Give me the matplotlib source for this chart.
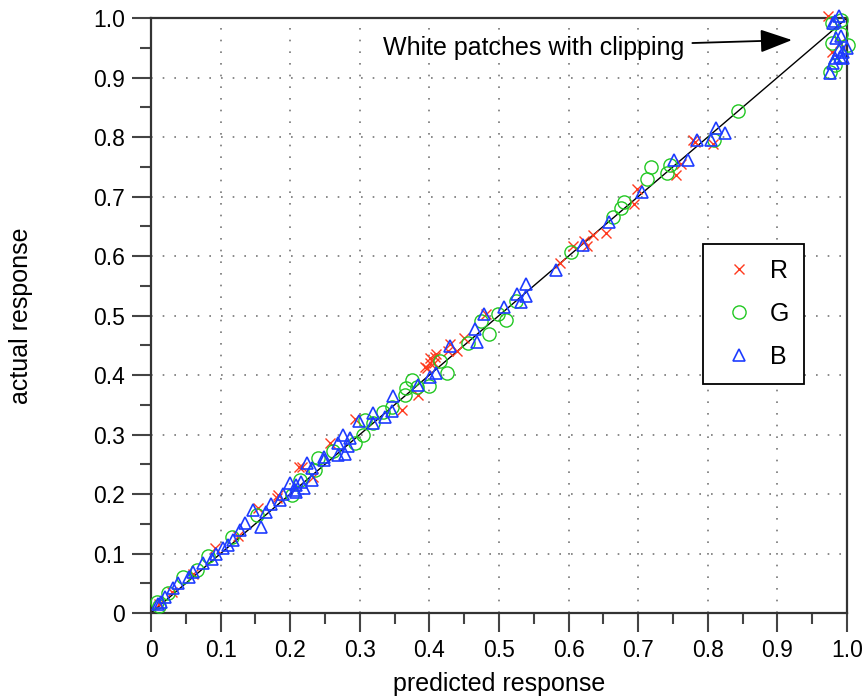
import matplotlib
matplotlib.use("Agg")
import matplotlib.pyplot as plt
from matplotlib.ticker import MultipleLocator

plt.rcParams['font.family'] = ['Liberation Sans', 'DejaVu Sans']

# ---- data ----
r_pred = [0.012, 0.030, 0.060, 0.092, 0.125, 0.154, 0.181, 0.183, 0.212, 0.217, 0.233, 0.257,
          0.293, 0.360, 0.383, 0.394, 0.396, 0.401, 0.401, 0.406, 0.408, 0.410, 0.427, 0.430,
          0.439, 0.449, 0.482, 0.588, 0.606, 0.622, 0.626, 0.635, 0.654, 0.694, 0.698, 0.755,
          0.761, 0.779, 0.781, 0.807, 0.973, 0.979, 0.990]
r_act = [0.015, 0.035, 0.065, 0.109, 0.130, 0.176, 0.193, 0.198, 0.246, 0.246, 0.229, 0.285,
         0.326, 0.341, 0.366, 0.414, 0.411, 0.428, 0.420, 0.420, 0.431, 0.436, 0.441, 0.452,
         0.441, 0.463, 0.503, 0.589, 0.617, 0.625, 0.617, 0.636, 0.639, 0.687, 0.712, 0.737,
         0.755, 0.795, 0.792, 0.788, 1.003, 0.943, 0.958]

g_pred = [0.008, 0.012, 0.025, 0.046, 0.066, 0.082, 0.116, 0.152, 0.202, 0.214, 0.236, 0.240,
          0.262, 0.293, 0.305, 0.307, 0.319, 0.333, 0.346, 0.365, 0.367, 0.375, 0.382, 0.400,
          0.415, 0.425, 0.456, 0.474, 0.485, 0.499, 0.510, 0.524, 0.604, 0.664, 0.675, 0.679,
          0.713, 0.718, 0.741, 0.745, 0.809, 0.844, 0.976, 0.978, 0.978, 0.983, 0.992, 1.002,
          0.992]
g_act = [0.019, 0.012, 0.033, 0.060, 0.072, 0.095, 0.128, 0.165, 0.198, 0.224, 0.240, 0.260,
         0.273, 0.285, 0.299, 0.324, 0.319, 0.338, 0.347, 0.366, 0.378, 0.392, 0.380, 0.382,
         0.423, 0.403, 0.453, 0.490, 0.469, 0.503, 0.492, 0.525, 0.607, 0.666, 0.680, 0.690,
         0.730, 0.749, 0.740, 0.753, 0.795, 0.844, 0.910, 0.991, 0.958, 0.921, 0.974, 0.955,
         0.997]

b_pred = [0.010, 0.015, 0.020, 0.032, 0.039, 0.054, 0.061, 0.075, 0.087, 0.094, 0.104, 0.110,
          0.118, 0.128, 0.135, 0.147, 0.158, 0.165, 0.173, 0.185, 0.190, 0.200, 0.207, 0.209,
          0.209, 0.215, 0.220, 0.224, 0.231, 0.231, 0.248, 0.248, 0.269, 0.269, 0.276, 0.279,
          0.283, 0.286, 0.299, 0.319, 0.319, 0.336, 0.346, 0.348, 0.383, 0.401, 0.410, 0.430,
          0.466, 0.468, 0.478, 0.507, 0.526, 0.531, 0.539, 0.539, 0.582, 0.620, 0.658, 0.706,
          0.751, 0.771, 0.785, 0.804, 0.812, 0.825, 0.976, 0.980, 0.983, 0.994, 0.990, 0.995,
          0.989, 1.000, 0.984, 0.991, 0.983, 0.989, 0.980]
b_act = [0.016, 0.019, 0.027, 0.042, 0.050, 0.061, 0.069, 0.084, 0.090, 0.100, 0.109, 0.115,
         0.123, 0.139, 0.151, 0.173, 0.145, 0.170, 0.184, 0.190, 0.200, 0.218, 0.207, 0.204,
         0.215, 0.220, 0.210, 0.252, 0.243, 0.224, 0.257, 0.262, 0.266, 0.286, 0.299, 0.268,
         0.281, 0.295, 0.323, 0.336, 0.319, 0.329, 0.340, 0.365, 0.383, 0.396, 0.403, 0.449,
         0.477, 0.456, 0.502, 0.514, 0.537, 0.522, 0.553, 0.532, 0.576, 0.618, 0.657, 0.708,
         0.762, 0.762, 0.795, 0.795, 0.816, 0.807, 0.907, 0.924, 0.932, 0.932, 0.935, 0.943,
         0.946, 0.949, 0.967, 0.969, 0.995, 1.003, 0.991]

ticks = [0, 0.1, 0.2, 0.3, 0.4, 0.5, 0.6, 0.7, 0.8, 0.9, 1.0]
tick_labels = ['0', '0.1', '0.2', '0.3', '0.4', '0.5', '0.6', '0.7', '0.8', '0.9', '1.0']

RED = '#ff3a1e'
GREEN = '#22c822'
BLUE = '#1e3cff'

fig = plt.figure(figsize=(8.67, 6.99), dpi=100)
ax = fig.add_axes([0.1742, 0.1230, 0.8027, 0.8512])

ax.plot([0, 1], [0, 1], color='black', lw=1.0, zorder=2)

ax.plot(r_pred, r_act, linestyle='none', marker='x', ms=6.5, mew=1.0, color=RED,
        label='R', clip_on=False, zorder=3)
ax.plot(g_pred, g_act, linestyle='none', marker='o', ms=9.5, mew=1.0, mfc='none', mec=GREEN,
        label='G', clip_on=False, zorder=3)
ax.plot(b_pred, b_act, linestyle='none', marker='^', ms=9, mew=1.2, mfc='none', mec=BLUE,
        label='B', clip_on=False, zorder=4)

ax.set_xlim(0, 1)
ax.set_ylim(0, 1)
ax.set_xticks(ticks)
ax.set_xticklabels(tick_labels)
ax.set_yticks(ticks)
ax.set_yticklabels(tick_labels)
ax.xaxis.set_minor_locator(MultipleLocator(0.05))
ax.yaxis.set_minor_locator(MultipleLocator(0.05))
ax.tick_params(which='major', direction='out', length=14, width=1.5, color='#444444',
               labelsize=16.5, pad=5)
ax.tick_params(which='minor', direction='out', length=8, width=1.5, color='#444444')
ax.grid(True, which='major', color='#777777', linestyle=(0, (1, 6)), lw=1.2)

for s in ax.spines.values():
    s.set_linewidth(1.6)
    s.set_color('#333333')

ax.set_xlabel('predicted response', fontsize=18, va='top')
ax.set_ylabel('actual response', fontsize=18)
ax.xaxis.set_label_coords(0.5, -0.099)
ax.yaxis.set_label_coords(-0.170, 0.5)

ax.annotate('White patches with clipping', xy=(0.921, 0.963), xytext=(0.333, 0.950),
            fontsize=18, va='center', ha='left',
            arrowprops=dict(arrowstyle='-|>,head_length=1.1,head_width=0.4',
                            color='black', lw=1.3, shrinkA=4, shrinkB=0))

leg = ax.legend(loc='upper left', bbox_to_anchor=(0.793, 0.620), fontsize=18,
                frameon=True, fancybox=False, edgecolor='black', framealpha=1,
                labelspacing=0.75, handletextpad=0.4, borderpad=0.6, handlelength=1.68,
                borderaxespad=0, markerscale=1.0)
leg.get_frame().set_linewidth(1.3)

fig.savefig('out.png', dpi=100)
